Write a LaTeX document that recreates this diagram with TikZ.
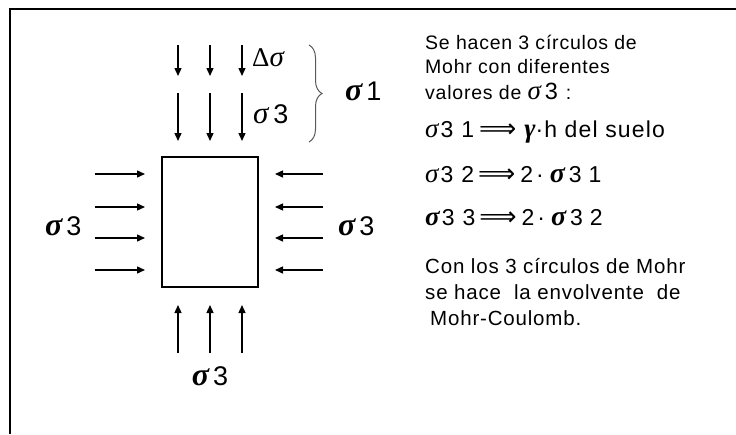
\documentclass[tikz,border=0pt]{standalone}
\usepackage{fontspec}
\setmainfont{Liberation Sans}
\newfontfamily\bodyf{Liberation Sans}[LetterSpace=4]
\newfontfamily\eqf{Liberation Sans}[LetterSpace=5]
\newfontfamily\grk{Liberation Serif}
\newfontfamily\djv{DejaVu Sans}
\usetikzlibrary{arrows.meta,decorations.pathreplacing}
\newcommand{\sgr}{{\grk\itshape σ}}
\newcommand{\sgb}{{\grk\bfseries\itshape σ}}
\newcommand{\arr}{{\fontsize{26}{28}\djv ⟹}}
\begin{document}
\begin{tikzpicture}[x=1pt,y=-1pt,
  force/.style={line width=1.3pt,-{Triangle[length=8pt,width=7pt]}},
  lbl/.style={inner sep=0pt,font=\fontsize{27}{30}\selectfont},
  txt/.style={inner sep=0pt,anchor=west,font=\fontsize{19.5}{24}\bodyf},
  txtb/.style={inner sep=0pt,anchor=west,font=\fontsize{20.5}{24}\bodyf},
  eq/.style={inner sep=0pt,anchor=west,font=\fontsize{23}{28}\eqf}]
\useasboundingbox (0,0) rectangle (736,434);
% frame
\draw[line width=2pt] (9.5,434) -- (9.5,8.5) -- (736,8.5);
% sample
\node[draw,line width=1.3pt,minimum width=96pt,minimum height=130pt,inner sep=0pt] (box) at (210,222) {};
% vertical arrows
\foreach \i/\x in {1/178,2/210,3/242}{
  \coordinate (ts\i) at (\x,45); \coordinate (te\i) at (\x,76);
  \coordinate (ls\i) at (\x,93); \coordinate (le\i) at (\x,141);
  \coordinate (bs\i) at (\x,353); \coordinate (be\i) at (\x,305);
  \draw[force] (ts\i) -- (te\i);
  \draw[force] (ls\i) -- (le\i);
  \draw[force] (bs\i) -- (be\i);
}
% side arrows
\foreach \i/\y in {1/174,2/207,3/238,4/270}{
  \coordinate (lfs\i) at (95,\y); \coordinate (lfe\i) at (145,\y);
  \coordinate (rts\i) at (323,\y); \coordinate (rte\i) at (275,\y);
  \draw[force] (lfs\i) -- (lfe\i);
  \draw[force] (rts\i) -- (rte\i);
}
% brace
\coordinate (bra) at (309,45); \coordinate (brb) at (309,142);
\draw[line width=1pt,gray!70!black,decorate,decoration={brace,amplitude=13pt}] (bra) -- (brb);
% labels
\node[lbl,anchor=west] (dsig) at (252,58) {{\fontsize{27}{28}\grk Δ}{\fontsize{29}{30}\sgr}};
\node[lbl,anchor=west] (s3top) at (253,114) {{\fontsize{31}{30}\sgr}\hspace{5pt}3};
\node[lbl,anchor=west] (s1) at (345,91) {{\fontsize{32}{30}\sgb}\hspace{4pt}1};
\node[lbl,anchor=west] (s3l) at (45,226) {{\fontsize{32}{30}\sgb}\hspace{4pt}3};
\node[lbl,anchor=west] (s3r) at (338,226) {{\fontsize{32}{30}\sgb}\hspace{4pt}3};
\node[lbl] (s3b) at (210,376) {{\fontsize{32}{30}\sgb}\hspace{4pt}3};
% text
\node[txt] (l1) at (425,42) {Se hacen 3 círculos de};
\node[txt] (l2) at (425,67) {Mohr con diferentes};
\node[txt] (l3) at (425,91) {valores de {\fontsize{23.5}{28}\selectfont{\fontsize{27}{28}\sgr}\hspace{4pt}3}\hspace{8pt}:};
\node[eq] (e1) at (425,132) {{\fontsize{27}{28}\sgr}\hspace{2pt}3\hspace{8pt}1\hspace{5pt}\arr\hspace{8pt}{\fontsize{27}{28}\grk\bfseries\itshape γ}·h del suelo};
\node[eq] (e2) at (425,175) {{\fontsize{27}{28}\sgr}\hspace{2pt}3\hspace{8pt}2\hspace{4pt}\arr\hspace{5pt}2\hspace{3pt}·\hspace{6pt}{\fontsize{28}{28}\sgb}\hspace{4pt}3\hspace{7pt}1};
\node[eq] (e3) at (425,218) {{\fontsize{27}{28}\sgb}\hspace{2pt}3\hspace{8pt}3\hspace{4pt}\arr\hspace{5pt}2\hspace{3pt}·\hspace{6pt}{\fontsize{28}{28}\sgb}\hspace{4pt}3\hspace{7pt}2};
\node[txtb] (c1) at (425,266) {Con los 3 círculos de Mohr};
\node[txtb] (c2) at (425,292) {se hace\ \ la envolvente\ \ de};
\node[txtb] (c3) at (430,318) {Mohr-Coulomb.};
\end{tikzpicture}
\end{document}
